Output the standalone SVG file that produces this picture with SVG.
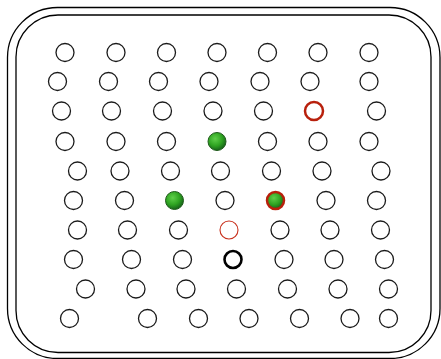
<svg xmlns="http://www.w3.org/2000/svg" width="441" height="359" viewBox="0 0 441 359">
<defs>
<radialGradient id="g" cx="0.4" cy="0.35" r="0.65">
<stop offset="0" stop-color="#5fcf4a"/>
<stop offset="0.6" stop-color="#2ea321"/>
<stop offset="1" stop-color="#17651a"/>
</radialGradient>
<style>
.f{fill:none;stroke:#000;stroke-width:1.3}
circle{fill:#fff;stroke:#1a1a1a;stroke-width:1.3}
.gr{fill:url(#g);stroke:#1f5a1a;stroke-width:1}
.gr2{fill:url(#g);stroke:#b8200c;stroke-width:2.5}
.rd{stroke:#b8200c;stroke-width:2.5}
.rt{stroke:#c8301c;stroke-width:1.1}
.bk{stroke:#000;stroke-width:2.6}
</style>
</defs>
<g id="frame">
<rect class="f" x="7.5" y="7.5" width="432.5" height="351" rx="50"/>
<rect class="f" x="16" y="15" width="415" height="337.5" rx="42"/>
</g>
<g id="nodes">
<g id="r1">
<circle cx="65" cy="52.5" r="9"/><circle cx="116" cy="52.5" r="9"/><circle cx="166.5" cy="52.5" r="9"/><circle cx="217" cy="52.5" r="9"/><circle cx="267.5" cy="52.5" r="9"/><circle cx="318" cy="52.5" r="9"/><circle cx="369" cy="52.5" r="9"/>
</g>
<g id="r2">
<circle cx="57.5" cy="81.5" r="9"/><circle cx="108.5" cy="81.5" r="9"/><circle cx="158.5" cy="81.5" r="9"/><circle cx="209" cy="81.5" r="9"/><circle cx="260" cy="81.5" r="9"/><circle cx="310" cy="81.5" r="9"/><circle cx="369" cy="81.5" r="9"/>
</g>
<g id="r3">
<circle cx="61.5" cy="111" r="9"/><circle cx="111.5" cy="111" r="9"/><circle cx="162.5" cy="111" r="9"/><circle cx="213" cy="111" r="9"/><circle cx="263.5" cy="111" r="9"/><circle class="rd" cx="314" cy="111" r="9"/><circle cx="376.5" cy="111" r="9"/>
</g>
<g id="r4">
<circle cx="65" cy="141.5" r="9"/><circle cx="116" cy="141.5" r="9"/><circle cx="166.5" cy="141.5" r="9"/><circle class="gr" cx="217" cy="141.5" r="9"/><circle cx="267.5" cy="141.5" r="9"/><circle cx="318" cy="141.5" r="9"/><circle cx="369" cy="141.5" r="9"/>
</g>
<g id="r5">
<circle cx="77.5" cy="171" r="9"/><circle cx="120" cy="171" r="9"/><circle cx="170.5" cy="171" r="9"/><circle cx="220.5" cy="171" r="9"/><circle cx="271.5" cy="171" r="9"/><circle cx="322" cy="171" r="9"/><circle cx="381" cy="171" r="9"/>
</g>
<g id="r6">
<circle cx="73.5" cy="200.5" r="9"/><circle cx="124.5" cy="200.5" r="9"/><circle class="gr" cx="174.5" cy="200.5" r="9"/><circle cx="225" cy="200.5" r="9"/><circle class="gr2" cx="275.5" cy="200.5" r="8.5"/><circle cx="326" cy="200.5" r="9"/><circle cx="376.5" cy="200.5" r="9"/>
</g>
<g id="r7">
<circle cx="77.5" cy="230" r="9"/><circle cx="127.5" cy="230" r="9"/><circle cx="178.5" cy="230" r="9"/><circle class="rt" cx="229" cy="230" r="9"/><circle cx="280" cy="230" r="9"/><circle cx="330" cy="230" r="9"/><circle cx="380.5" cy="230" r="9"/>
</g>
<g id="r8">
<circle cx="73.5" cy="259.5" r="9"/><circle cx="131.5" cy="259.5" r="9"/><circle cx="182.5" cy="259.5" r="9"/><circle class="bk" cx="233" cy="259.5" r="8.5"/><circle cx="284" cy="259.5" r="9"/><circle cx="334" cy="259.5" r="9"/><circle cx="384.5" cy="259.5" r="9"/>
</g>
<g id="r9">
<circle cx="85.5" cy="289" r="9"/><circle cx="136" cy="289" r="9"/><circle cx="186" cy="289" r="9"/><circle cx="236.5" cy="289" r="9"/><circle cx="287.5" cy="289" r="9"/><circle cx="338" cy="289" r="9"/><circle cx="388.5" cy="289" r="9"/>
</g>
<g id="r10">
<circle cx="69.5" cy="318.5" r="9"/><circle cx="147.5" cy="318.5" r="9"/><circle cx="198.5" cy="318.5" r="9"/><circle cx="249" cy="318.5" r="9"/><circle cx="299.5" cy="318.5" r="9"/><circle cx="350" cy="318.5" r="9"/><circle cx="388.5" cy="318.5" r="9"/>
</g>
</g>
<g id="connectors"/>
</svg>
